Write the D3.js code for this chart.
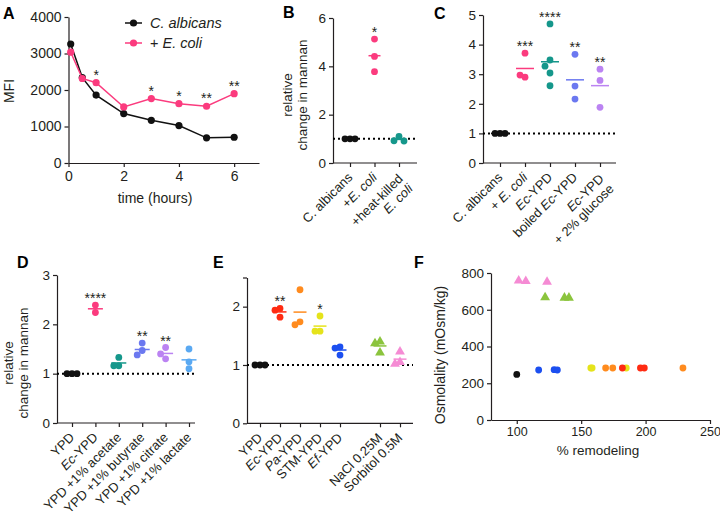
<!DOCTYPE html>
<html>
<head>
<meta charset="utf-8">
<script src="https://cdn.jsdelivr.net/npm/d3@7"></script>
<style>
  body { margin: 0; background: #fff; }
  svg { font-family: "Liberation Sans", Arial, Helvetica, sans-serif; }
</style>
</head>
<body>
<svg id="fig" width="720" height="518"></svg>
<script>
// ---------- data ----------
// A: MFI over time
const timeHours   = [0.08, 0.5, 1, 2, 3, 4, 5, 6];
const mfiAlbicans = [3260, 2340, 1860, 1355, 1170, 1025, 690, 705];
const mfiEcoli    = [3035, 2315, 2200, 1535, 1765, 1625, 1555, 1900];
const starsA      = ["", "", "*", "", "*", "*", "**", "**"];

// B: relative change in mannan ("~" toggles italics, "|" breaks line)
const bCats   = ["C. albicans", "+~E. coli~", "+heat-killed|~E. coli~"];
const bValues = [[1, 1, 1], [5.13, 4.41, 3.78], [1.10, 0.92, 0.91]];
const bStars  = ["", "*", ""];

// C
const cCats   = ["C. albicans", "+ ~E. coli~", "~Ec~-YPD", "boiled ~Ec~-YPD", "~Ec~-YPD|+ 2% glucose"];
const cValues = [[1, 1, 1], [3.71, 2.90, 2.97], [4.70, 3.48, 3.27, 3.04, 2.61], [3.67, 2.60, 2.16], [3.17, 2.79, 1.88]];
const cStars  = ["", "***", "****", "**", "**"];

// D
const dCats   = ["YPD", "~Ec~-YPD", "YPD +1% acetate", "YPD +1% butyrate", "YPD +1% citrate", "YPD +1% lactate"];
const dValues = [[1, 1, 1], [2.39, 2.24], [1.33, 1.16, 1.16], [1.62, 1.47, 1.38], [1.53, 1.30, 1.40], [1.50, 1.10, 1.24]];
const dStars  = ["", "****", "", "**", "**", ""];

// E
const eCats   = ["YPD", "~Ec~-YPD", "~Pa~-YPD", "STM-YPD", "~Ef~-YPD", "NaCl 0.25M", "Sorbitol 0.5M"];
const eValues = [[1, 1, 1], [1.97, 1.94, 1.82], [2.29, 1.74, 1.69], [1.84, 1.58, 1.58], [1.31, 1.29, 1.17], [1.40, 1.37, 1.21], [1.23, 1.05, 1.02]];
const eStars  = ["", "**", "", "*", "", "", ""];

// F: osmolality vs % remodeling
const fGroup   = ["YPD", "Ef", "Ef", "Ef", "STM", "STM", "STM", "Pa", "Pa", "Pa", "Ec", "Ec", "Ec", "NaCl", "NaCl", "NaCl", "Sorb", "Sorb", "Sorb"];
const fRemodel = [100, 117, 129, 131.5, 157.5, 158.5, 185, 169, 174.5, 229, 182, 196, 199, 122, 137, 140.5, 101.5, 107, 123.5];
const fOsm     = [248, 272, 274, 272, 283, 283, 283, 283, 283, 283, 283, 283, 283, 667, 665, 665, 758, 755, 752];

// ---------- colours ----------
const INK = "#231f20", BLACK = "#111", PINK = "#fb3b7e", TEAL = "#15978b", PERI = "#6b78f0",
      LAV = "#bb83f2", LBLUE = "#5aa9f2", RED = "#ff2b12", ORANGE = "#ff8b1e", YELLOW = "#e5e31b",
      BLUE = "#1c4ff0", GREEN = "#8bc43d", SORB = "#f58bd4";
const fColor = { YPD: BLACK, Ef: BLUE, STM: YELLOW, Pa: ORANGE, Ec: RED, NaCl: GREEN, Sorb: SORB };

const svg = d3.select("#fig");
const plain = d => String(d);

function styleAxis(g, fs = 13) {
  g.attr("font-family", null).attr("font-size", fs);
  g.selectAll("path, line").attr("stroke", INK).attr("stroke-width", 1.2);
  g.selectAll("text").attr("fill", INK);
}

// writes "~italic~" segments into a text element
function rich(text, str) {
  str.split("~").forEach((p, i) => {
    if (p) text.append("tspan").text(p).attr("font-style", i % 2 ? "italic" : null);
  });
}

function panelLetter(ch, x, y) {
  svg.append("text").attr("x", x).attr("y", y).attr("font-size", 16).attr("font-weight", "bold")
    .attr("fill", "#000").text(ch);
}

function yTitle(lines, x, cy, fs = 13.5) {
  lines.forEach((l, i) => {
    svg.append("text").attr("transform", `translate(${x + i * 15},${cy}) rotate(-90)`)
      .attr("text-anchor", "middle").attr("font-size", fs).attr("fill", INK).text(l);
  });
}

// simple swarm: put each dot in the first free column
function swarm(vals, y, step, thr) {
  const placed = [];
  return vals.map(v => {
    const py = y(v);
    for (const k of [0, -1, 1, -2, 2, -3, 3]) {
      if (!placed.some(p => p.k === k && Math.abs(p.py - py) < thr)) {
        placed.push({ k, py });
        return { v, py, dx: k * step };
      }
    }
  });
}

function dotPanel(o) {
  const g = svg.append("g");
  const keys = o.cats.map((c, i) => "c" + i);
  const domain = keys.slice();
  if (o.gapBefore != null) domain.splice(o.gapBefore, 0, "gap");
  const x = d3.scalePoint().domain(domain).range([o.xFirst, o.xLast]);
  const y = d3.scaleLinear().domain(o.yDomain).range([o.y0, o.y1]);

  // y axis
  g.append("g").attr("transform", `translate(${o.axisX},0)`)
    .call(d3.axisLeft(y).tickValues(o.yTicks).tickSize(4).tickSizeOuter(0).tickPadding(3)
      .tickFormat(d => Number.isInteger(d) ? d : ""))
    .call(styleAxis, 13.5);

  // x axis with category ticks
  const xa = g.append("g").attr("transform", `translate(0,${o.y0})`)
    .call(d3.axisBottom(x).tickValues(keys).tickSize(4).tickSizeOuter(0).tickFormat(""))
    .call(styleAxis);
  xa.select(".domain").remove();
  xa.append("line").attr("x1", o.axisX).attr("x2", o.axisEnd).attr("stroke", INK).attr("stroke-width", 1.2);

  // reference line at 1
  g.append("line").attr("x1", o.axisX).attr("x2", o.axisEnd).attr("y1", y(1)).attr("y2", y(1))
    .attr("stroke", "#000").attr("stroke-width", 2).attr("stroke-dasharray", "2,3");

  // category labels
  o.cats.forEach((c, i) => {
    const lines = c.split("|");
    const lg = g.append("g").attr("transform", `translate(${x(keys[i])},${o.y0 + 12}) rotate(-45)`);
    lines.forEach((l, li) => {
      const t = lg.append("text").attr("text-anchor", "end").attr("font-size", 13).attr("fill", INK)
        .attr("y", lines.length > 1 ? li * 14 + 2 : 0).attr("dy", "0.35em");
      rich(t, l);
    });
  });

  // dots, means, stars
  o.values.forEach((vals, i) => {
    const cx = x(keys[i]);
    const col = o.colors[i];
    g.append("line").attr("x1", cx - o.meanW / 2).attr("x2", cx + o.meanW / 2)
      .attr("y1", y(d3.mean(vals))).attr("y2", y(d3.mean(vals)))
      .attr("stroke", col).attr("stroke-width", 1.5);
    const pts = swarm(vals, y, 5, 6.5);
    if (o.shapes && o.shapes[i] === "tri") {
      g.selectAll(null).data(pts).enter().append("path")
        .attr("d", d3.symbol(d3.symbolTriangle, 42))
        .attr("transform", d => `translate(${cx + d.dx},${d.py})`).attr("fill", col);
    } else {
      g.selectAll(null).data(pts).enter().append("circle")
        .attr("cx", d => cx + d.dx).attr("cy", d => d.py).attr("r", 3.4).attr("fill", col);
    }
    if (o.stars[i]) {
      g.append("text").attr("x", cx).attr("y", y(d3.max(vals)) - 2).attr("text-anchor", "middle")
        .attr("font-size", 14).attr("fill", INK).text(o.stars[i]);
    }
  });
}

// ---------- A ----------
(function () {
  const g = svg.append("g");
  const x = d3.scaleLinear().domain([0, 6.9]).range([68.5, 259]);
  const y = d3.scaleLinear().domain([0, 4000]).range([163, 17]);
  g.append("g").attr("transform", "translate(68.5,0)")
    .call(d3.axisLeft(y).tickValues([0, 1000, 2000, 3000, 4000]).tickSize(4).tickSizeOuter(0)
      .tickPadding(3).tickFormat(plain))
    .call(styleAxis, 14);
  g.append("g").attr("transform", "translate(0,163)")
    .call(d3.axisBottom(x).tickValues([0, 2, 4, 6]).tickSize(4).tickSizeOuter(0)
      .tickPadding(4).tickFormat(plain))
    .call(styleAxis, 14);

  const series = [{ v: mfiAlbicans, c: BLACK }, { v: mfiEcoli, c: PINK }];
  series.forEach(s => {
    g.append("path").datum(s.v)
      .attr("d", d3.line().x((d, i) => x(timeHours[i])).y(d => y(d)))
      .attr("fill", "none").attr("stroke", s.c).attr("stroke-width", 1.5);
    g.selectAll(null).data(s.v).enter().append("circle")
      .attr("cx", (d, i) => x(timeHours[i])).attr("cy", d => y(d)).attr("r", 3.6).attr("fill", s.c);
  });
  starsA.forEach((s, i) => {
    if (!s) return;
    g.append("text").attr("x", x(timeHours[i])).attr("y", y(mfiEcoli[i]) - 3)
      .attr("text-anchor", "middle").attr("font-size", 14).attr("fill", INK).text(s);
  });

  // legend
  [["~C. albicans~", BLACK, 23], ["+ ~E. coli~", PINK, 43]].forEach(([lab, c, ly]) => {
    g.append("line").attr("x1", 125).attr("x2", 142).attr("y1", ly).attr("y2", ly)
      .attr("stroke", c).attr("stroke-width", 1.5);
    g.append("circle").attr("cx", 133.5).attr("cy", ly).attr("r", 3.6).attr("fill", c);
    const t = g.append("text").attr("x", 150).attr("y", ly + 5).attr("font-size", 14.5).attr("fill", INK);
    rich(t, lab);
  });

  svg.append("text").attr("x", 155).attr("y", 203).attr("text-anchor", "middle")
    .attr("font-size", 14).attr("fill", INK).text("time (hours)");
  yTitle(["MFI"], 14, 91, 14);
  panelLetter("A", 3, 19);
})();

// ---------- B ----------
dotPanel({
  cats: bCats, values: bValues, stars: bStars, colors: [BLACK, PINK, TEAL],
  axisX: 333, axisEnd: 417, xFirst: 350, xLast: 399,
  yDomain: [0, 6], y0: 163, y1: 18, yTicks: [0, 2, 4, 6], meanW: 12
});
yTitle(["relative", "change in mannan"], 292, 95);
panelLetter("B", 283, 18);

// ---------- C ----------
dotPanel({
  cats: cCats, values: cValues, stars: cStars, colors: [BLACK, PINK, TEAL, PERI, LAV],
  axisX: 483, axisEnd: 616, xFirst: 500, xLast: 600,
  yDomain: [0, 5], y0: 163, y1: 15, yTicks: [0, 1, 2, 3, 4, 5], meanW: 18
});
panelLetter("C", 434, 19);

// ---------- D ----------
dotPanel({
  cats: dCats, values: dValues, stars: dStars, colors: [BLACK, PINK, TEAL, PERI, LAV, LBLUE],
  axisX: 57, axisEnd: 195, xFirst: 72, xLast: 189,
  yDomain: [0, 3], y0: 423, y1: 275, yTicks: [0, 1, 2, 3], meanW: 15
});
yTitle(["relative", "change in mannan"], 13, 363);
panelLetter("D", 17, 268);

// ---------- E ----------
dotPanel({
  cats: eCats, values: eValues, stars: eStars, colors: [BLACK, RED, ORANGE, YELLOW, BLUE, GREEN, SORB],
  shapes: ["dot", "dot", "dot", "dot", "dot", "tri", "tri"], gapBefore: 5,
  axisX: 247, axisEnd: 413, xFirst: 260, xLast: 400,
  yDomain: [0, 2.5], y0: 423.3, y1: 277.5, yTicks: [0, 1, 2, 2.5], meanW: 13
});
panelLetter("E", 213, 268);

// ---------- F ----------
(function () {
  const g = svg.append("g");
  const x = d3.scaleLinear().domain([80, 250]).range([491, 710]);
  const y = d3.scaleLinear().domain([0, 800]).range([420, 273]);
  g.append("g").attr("transform", "translate(491,0)")
    .call(d3.axisLeft(y).tickValues([0, 200, 400, 600, 800]).tickSize(4).tickSizeOuter(0)
      .tickPadding(3).tickFormat(plain))
    .call(styleAxis, 13.5);
  g.append("g").attr("transform", "translate(0,420)")
    .call(d3.axisBottom(x).tickValues([100, 150, 200, 250]).tickSize(4).tickSizeOuter(0)
      .tickPadding(3).tickFormat(plain))
    .call(styleAxis, 12.5);

  const pts = fGroup.map((grp, i) => ({ grp, x: fRemodel[i], y: fOsm[i] }));
  g.selectAll(null).data(pts.filter(d => d.grp !== "NaCl" && d.grp !== "Sorb")).enter().append("circle")
    .attr("cx", d => x(d.x)).attr("cy", d => y(d.y)).attr("r", 3.4).attr("fill", d => fColor[d.grp]);
  g.selectAll(null).data(pts.filter(d => d.grp === "NaCl" || d.grp === "Sorb")).enter().append("path")
    .attr("d", d3.symbol(d3.symbolTriangle, 42))
    .attr("transform", d => `translate(${x(d.x)},${y(d.y)})`).attr("fill", d => fColor[d.grp]);

  svg.append("text").attr("x", 598).attr("y", 455).attr("text-anchor", "middle")
    .attr("font-size", 13.5).attr("fill", INK).text("% remodeling");
  yTitle(["Osmolality (mOsm/kg)"], 445, 355, 14);
  panelLetter("F", 414, 268);
})();
</script>
</body>
</html>
